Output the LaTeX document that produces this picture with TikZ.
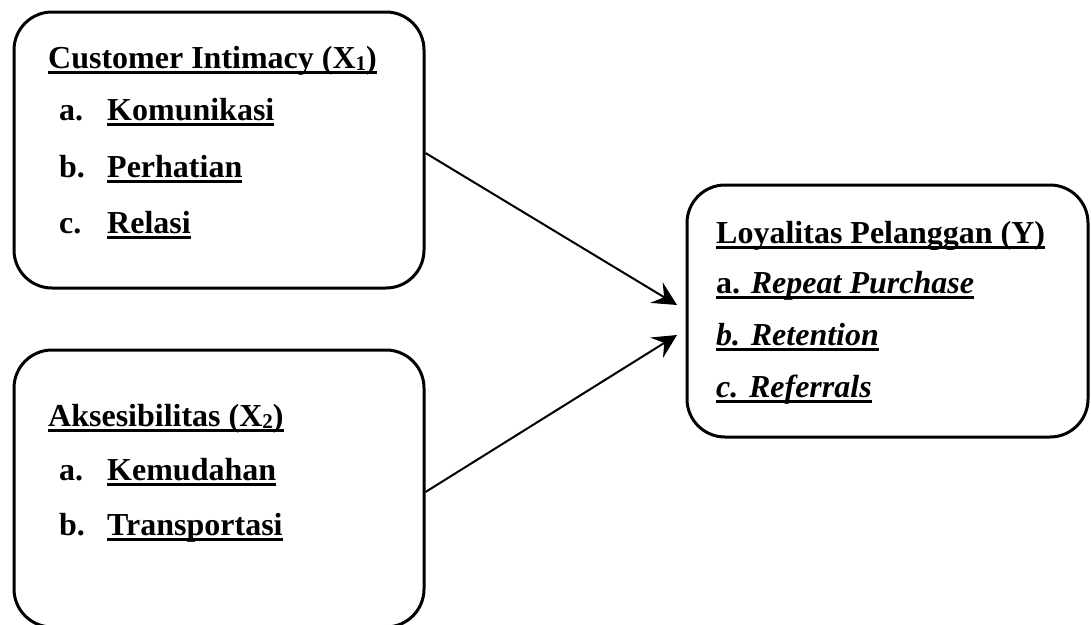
\documentclass[tikz,border=0pt]{standalone}
\usepackage{fontspec}
\setmainfont{Liberation Serif}
\usetikzlibrary{arrows.meta}
\newsavebox\ulbox
\newcommand\myul[1]{\sbox\ulbox{#1}\rlap{\rule[-6pt]{\wd\ulbox}{2.6pt}}\usebox\ulbox}
\newcommand\sbs[1]{\raisebox{-2pt}{\fontsize{21}{21}\selectfont #1}}
\tikzset{
  box/.style={draw, line width=3pt, rounded corners=38pt, inner sep=0pt},
  txt/.style={anchor=base west, inner sep=0pt},
  arr/.style={line width=2pt, -{Stealth[length=24pt, width=24pt, inset=9pt]}}
}
\begin{document}
\begin{tikzpicture}[x=1pt, y=-1pt, font=\fontsize{32}{38}\selectfont\bfseries]
\useasboundingbox (0,0) rectangle (1091,624);
\begin{scope}
\clip (0,0) rectangle (1091,624);
\node[box, minimum width=410pt, minimum height=276pt] (b1) at (219,150) {};
\node[box, minimum width=410pt, minimum height=277pt] (b2) at (219,488.5) {};
\node[box, minimum width=401pt, minimum height=252pt] (b3) at (887.5,311) {};
\end{scope}
% box 1
\node[txt] (t1) at (48,68) {\myul{Customer Intimacy (X\sbs{1})}};
\node[txt] (l1a) at (59,120) {a.};
\node[txt] (i1a) at (107,120) {\myul{Komunikasi}};
\node[txt] (l1b) at (59,177) {b.};
\node[txt] (i1b) at (107,177) {\myul{Perhatian}};
\node[txt] (l1c) at (59,233) {c.};
\node[txt] (i1c) at (107,233) {\myul{Relasi}};
% box 2
\node[txt] (t2) at (48,426) {\myul{Aksesibilitas (X\sbs{2})}};
\node[txt] (l2a) at (59,480) {a.};
\node[txt] (i2a) at (107,480) {\myul{Kemudahan}};
\node[txt] (l2b) at (59,535) {b.};
\node[txt] (i2b) at (107,535) {\myul{Transportasi}};
% box 3
\node[txt] (t3) at (716,243) {\myul{Loyalitas Pelanggan (Y)}};
\node[txt] (i3a) at (716,293) {\myul{a. \itshape Repeat Purchase}};
\node[txt] (i3b) at (716,345) {\myul{\itshape b. Retention}};
\node[txt] (i3c) at (716,397) {\myul{\itshape c. Referrals}};
% arrows
\coordinate (h1) at (677,305);
\coordinate (h2) at (677,335);
\draw[arr] ([yshift=-3pt]b1.east) -- (h1);
\draw[arr] ([yshift=-3.5pt]b2.east) -- (h2);
\end{tikzpicture}
\end{document}
